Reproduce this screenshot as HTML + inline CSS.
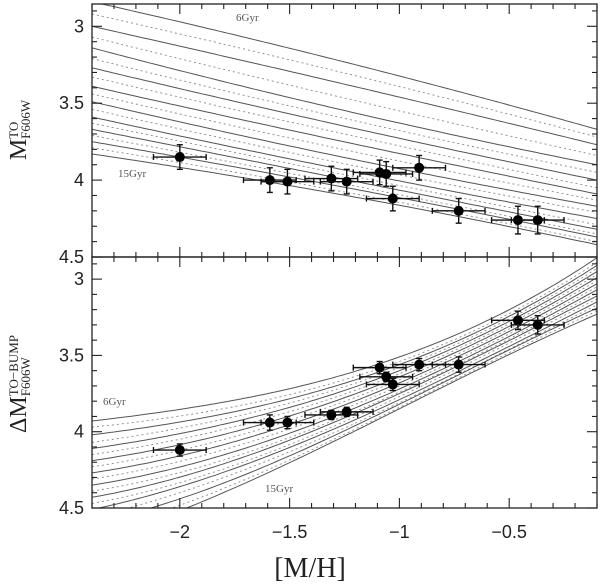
<!DOCTYPE html>
<html><head><meta charset="utf-8"><style>
body{margin:0;background:#fff;width:600px;height:588px;overflow:hidden}
svg{display:block}
</style></head><body>
<svg id="chart" width="600" height="588" xmlns="http://www.w3.org/2000/svg"></svg>
<script>
const xVals=[-2.0,-1.59,-1.51,-1.31,-1.24,-1.09,-1.06,-1.03,-0.91,-0.73,-0.46,-0.37];
const xErr=[0.12,0.12,0.12,0.12,0.12,0.12,0.12,0.12,0.12,0.12,0.12,0.12];
const topVals=[3.85,4.00,4.01,3.99,4.01,3.95,3.96,4.12,3.92,4.20,4.26,4.26];
const topErr=[0.08,0.08,0.08,0.08,0.08,0.08,0.08,0.08,0.08,0.08,0.09,0.09];
const botVals=[4.12,3.94,3.94,3.89,3.87,3.58,3.64,3.69,3.56,3.56,3.27,3.30];
const botErr=[0.04,0.05,0.04,0.03,0.03,0.04,0.03,0.04,0.04,0.05,0.06,0.06];
const ages=[6,6.5,7,7.5,8,8.5,9,9.5,10,10.5,11,11.5,12,12.5,13,13.5,14,14.5,15];
const topKnotsX=[-2.4,-1.09,-0.1];
const topIsoL=[2.84,2.92,3.00,3.07,3.14,3.21,3.27,3.33,3.39,3.44,3.49,3.54,3.59,3.63,3.67,3.71,3.75,3.79,3.83];
const topIsoM=[3.29,3.36,3.43,3.52,3.60,3.65,3.70,3.75,3.80,3.85,3.90,3.94,3.98,4.01,4.04,4.07,4.09,4.12,4.14];
const topIsoR=[3.67,3.72,3.77,3.84,3.90,3.95,4.00,4.05,4.09,4.13,4.17,4.21,4.25,4.29,4.32,4.35,4.37,4.40,4.42];
const botKnotsX=[-2.4,-1.6,-1.0,-0.1];
const botIso0=[3.93,3.97,4.02,4.07,4.11,4.15,4.19,4.23,4.27,4.31,4.35,4.39,4.43,4.47,4.51,4.56,4.60,4.66,4.72];
const botIso1=[3.75,3.79,3.82,3.85,3.88,3.91,3.94,3.97,4.00,4.03,4.06,4.09,4.11,4.14,4.16,4.19,4.22,4.25,4.27];
const botIso2=[3.51,3.54,3.56,3.58,3.60,3.62,3.64,3.66,3.68,3.70,3.72,3.74,3.75,3.77,3.79,3.81,3.82,3.84,3.85];
const botIso3=[2.86,2.89,2.91,2.93,2.95,2.97,2.99,3.01,3.03,3.05,3.07,3.09,3.11,3.13,3.15,3.17,3.19,3.21,3.23];
const xTicks=[-2,-1.5,-1,-0.5];
const xTickLabels=["\u22122","\u22121.5","\u22121","\u22120.5"];
const yTicks=[3,3.5,4,4.5];
const yTickLabels=["3","3.5","4","4.5"];

const NS="http://www.w3.org/2000/svg";
const svg=document.getElementById('chart');
const L=92,R=597,XMIN=-2.4,XMAX=-0.1;
const sx=v=>L+(v-XMIN)/(XMAX-XMIN)*(R-L);
const panels=[{top:4,bot:257,name:'top'},{top:257,bot:508,name:'bottom'}];
const YMIN=2.855,YMAX=4.5;
const syF=p=>v=>p.top+(v-YMIN)/(YMAX-YMIN)*(p.bot-p.top);
function el(t,a,parent){const e=document.createElementNS(NS,t);for(const k in a)e.setAttribute(k,a[k]);(parent||svg).appendChild(e);return e;}
function lagr(xs,ys,x){let s=0;for(let i=0;i<xs.length;i++){let t=ys[i];for(let j=0;j<xs.length;j++)if(j!==i)t*=(x-xs[j])/(xs[i]-xs[j]);s+=t;}return s;}

const defs=el('defs',{});
panels.forEach((p,pi)=>{
  const cp=el('clipPath',{id:'clip'+pi},defs);
  el('rect',{x:L,y:p.top,width:R-L,height:p.bot-p.top},cp);
});

function drawPanel(pi,knotsX,iso,vals,errs,labels){
  const p=panels[pi],sy=syF(p);
  const g=el('g',{'clip-path':'url(#clip'+pi+')'});
  
  
  for(let a=0;a<ages.length;a++){
    const ys=iso.map(arr=>arr[a]);
    let d='';
    for(let x=XMIN;x<=XMAX+1e-9;x+=0.02){d+=(d?'L':'M')+sx(x).toFixed(1)+','+sy(lagr(knotsX,ys,x)).toFixed(1);}
    const solid=a%2===0;
    const path=el('path',{d:d,fill:'none',stroke:solid?'#555':'#888','stroke-width':solid?1:0.9,'stroke-dasharray':solid?'none':'2,3'},g);
    
    
  }
  const dg=el('g',{});
  
  
  for(let i=0;i<xVals.length;i++){
    const cx=sx(xVals[i]),cy=sy(vals[i]);
    const x0=sx(xVals[i]-xErr[i]),x1=sx(xVals[i]+xErr[i]);
    const y0=sy(vals[i]-errs[i]),y1=sy(vals[i]+errs[i]);
    const st={stroke:'#111','stroke-width':1.4};
    el('line',Object.assign({x1:x0,y1:cy,x2:x1,y2:cy},st),dg);
    el('line',Object.assign({x1:x0,y1:cy-3,x2:x0,y2:cy+3},st),dg);
    el('line',Object.assign({x1:x1,y1:cy-3,x2:x1,y2:cy+3},st),dg);
    el('line',Object.assign({x1:cx,y1:y0,x2:cx,y2:y1},st),dg);
    el('line',Object.assign({x1:cx-3,y1:y0,x2:cx+3,y2:y0},st),dg);
    el('line',Object.assign({x1:cx-3,y1:y1,x2:cx+3,y2:y1},st),dg);
    const c=el('circle',{cx:cx,cy:cy,r:5,fill:'#000'},dg);
    
    
  }
  el('rect',{x:L,y:p.top,width:R-L,height:p.bot-p.top,fill:'none',stroke:'#222','stroke-width':1.3});
  for(let k=-24;k<=-1;k++){
    const v=k/10,x=sx(v),maj=(k%5===0),len=maj?10:5;
    el('line',{x1:x,y1:p.top,x2:x,y2:p.top+len,stroke:'#222','stroke-width':1.1});
    el('line',{x1:x,y1:p.bot,x2:x,y2:p.bot-len,stroke:'#222','stroke-width':1.1});
  }
  for(let k=29;k<=45;k++){
    const v=k/10,y=sy(v),maj=(k%5===0),len=maj?10:5;
    el('line',{x1:L,y1:y,x2:L+len,y2:y,stroke:'#222','stroke-width':1.1});
    el('line',{x1:R,y1:y,x2:R-len,y2:y,stroke:'#222','stroke-width':1.1});
  }
  yTicks.forEach((v,i)=>{
    const t=el('text',{x:84,y:sy(v)+6,'text-anchor':'end','font-family':'Liberation Sans, sans-serif','font-size':18,fill:'#222'});
    t.textContent=yTickLabels[i];
    
    
  });
  labels.forEach(l=>{
    const t=el('text',{x:l[0],y:l[1],'font-family':'Liberation Serif, serif','font-size':11,fill:'#555'});
    t.textContent=l[2];
    
    
  });
}
drawPanel(0,topKnotsX,[topIsoL,topIsoM,topIsoR],topVals,topErr,[[236,21,'6Gyr'],[118,177,'15Gyr']]);
drawPanel(1,botKnotsX,[botIso0,botIso1,botIso2,botIso3],botVals,botErr,[[103,405,'6Gyr'],[265,492,'15Gyr']]);

xTicks.forEach((v,i)=>{
  const t=el('text',{x:sx(v),y:538,'text-anchor':'middle','font-family':'Liberation Sans, sans-serif','font-size':18,fill:'#222'});
  t.textContent=xTickLabels[i];
  
  
});
</script>
<div style="position:absolute;left:250px;top:553px;width:120px;text-align:center;font:28px 'Liberation Serif',serif;color:#222">[M/H]</div>
<div style="position:absolute;left:-40px;top:116px;width:120px;height:28px;text-align:center;transform:rotate(-90deg);font:24px 'Liberation Serif',serif;color:#222;white-space:nowrap">M<span style="display:inline-block;vertical-align:middle;line-height:12px;font-size:13px;text-align:left"><span style="display:block">TO</span><span style="display:block">F606W</span></span></div>
<div style="position:absolute;left:-60px;top:370px;width:160px;height:28px;text-align:center;transform:rotate(-90deg);font:24px 'Liberation Serif',serif;color:#222;white-space:nowrap">ΔM<span style="display:inline-block;vertical-align:middle;line-height:12px;font-size:13px;text-align:left"><span style="display:block">TO−BUMP</span><span style="display:block">F606W</span></span></div>
</body></html>
